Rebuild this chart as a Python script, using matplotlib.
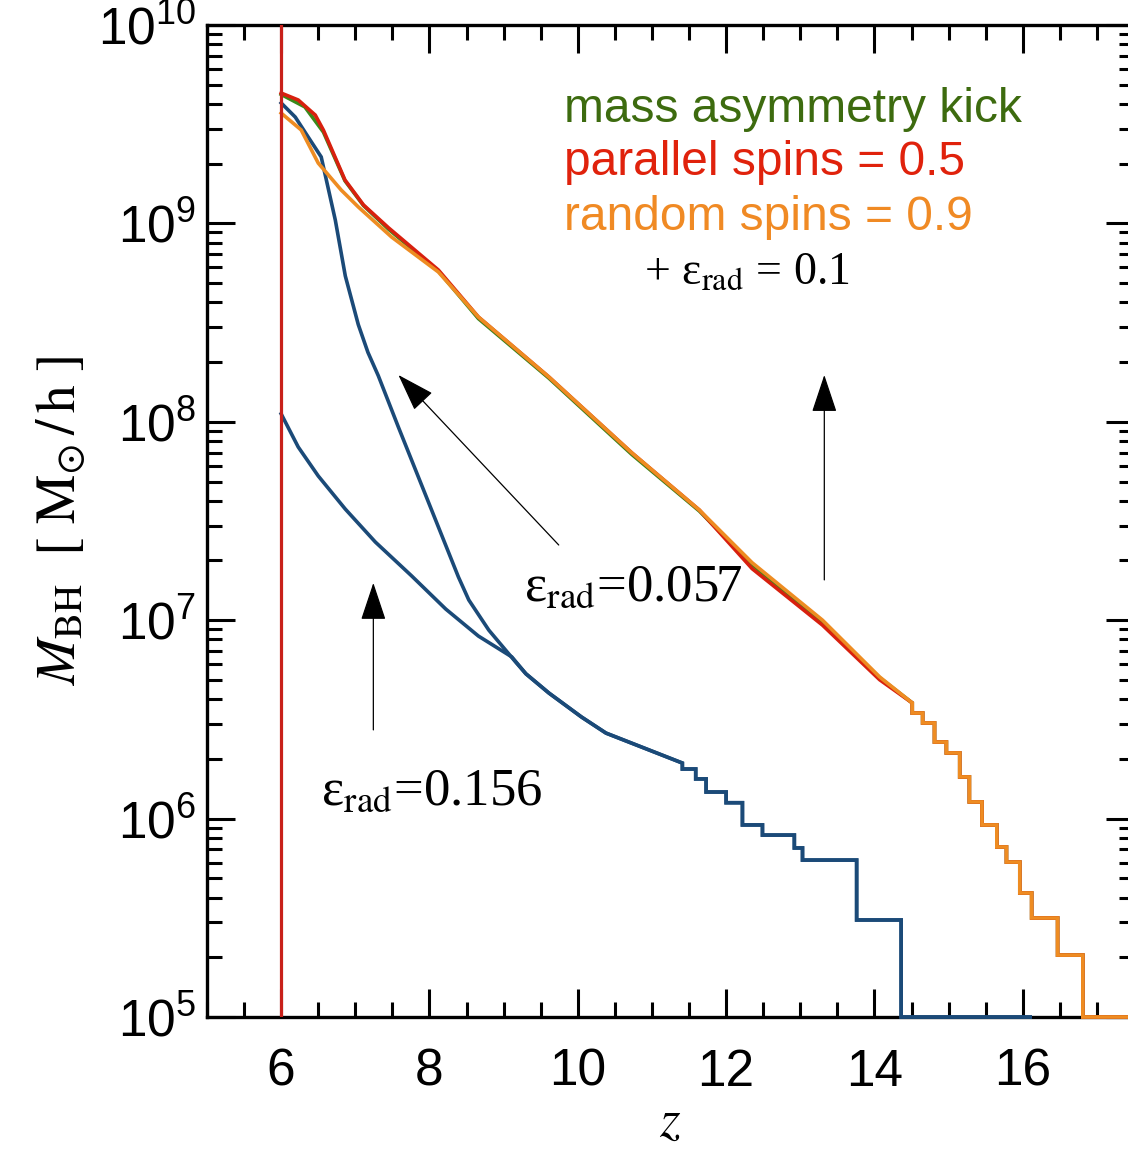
import numpy as np
import matplotlib
matplotlib.use('Agg')
import matplotlib.pyplot as plt
from matplotlib.ticker import MultipleLocator, LogLocator, NullFormatter, FuncFormatter

plt.rcParams['font.family'] = ['Liberation Sans', 'DejaVu Sans']
plt.rcParams['mathtext.fontset'] = 'stix'

# black hole mass growth, log10(M_BH)
# smooth low-z parts
z_red = [6.0, 6.23, 6.46, 6.57, 6.86, 7.11, 7.45, 8.12, 8.66, 9.61, 10.73, 11.64, 12.35, 13.30, 14.07, 14.51]
lm_red = [9.657, 9.622, 9.546, 9.47, 9.219, 9.093, 8.977, 8.765, 8.528, 8.226, 7.843, 7.555, 7.26, 6.975, 6.70, 6.583]

z_orange = [6.0, 6.27, 6.5, 6.81, 7.04, 7.49, 8.12, 8.66, 9.61, 10.73, 11.64, 12.35, 13.30, 14.07, 14.51]
lm_orange = [9.556, 9.471, 9.304, 9.168, 9.083, 8.931, 8.755, 8.528, 8.226, 7.843, 7.555, 7.29, 7.00, 6.714, 6.583]

z_green = [6.0, 6.32, 6.57, 6.86, 7.11, 7.45, 8.12, 8.66, 9.61, 10.73, 11.64, 12.35, 13.30, 14.07, 14.51]
lm_green = [9.65, 9.587, 9.46, 9.215, 9.09, 8.97, 8.76, 8.52, 8.22, 7.835, 7.55, 7.28, 6.99, 6.71, 6.583]

# high-z staircase shared by the three eps=0.1 runs
z_hi_edges = [14.51, 14.65, 14.81, 14.97, 15.15, 15.28, 15.45, 15.65, 15.78, 15.96, 16.12, 16.47, 16.81, 17.5]
lm_hi = [6.532, 6.482, 6.386, 6.331, 6.21, 6.084, 5.968, 5.857, 5.781, 5.625, 5.499, 5.312, 5.0]

# eps_rad = 0.057
z_blue1 = [6.0, 6.19, 6.365, 6.54, 6.73, 6.865, 7.04, 7.17, 7.31, 7.58, 7.85, 8.12, 8.39, 8.53, 8.80, 9.16]
lm_blue1 = [9.607, 9.536, 9.435, 9.335, 9.017, 8.735, 8.49, 8.35, 8.232, 7.974, 7.722, 7.470, 7.218, 7.102, 6.95, 6.79]

# eps_rad = 0.156
z_blue2 = [6.0, 6.23, 6.5, 6.865, 7.27, 7.76, 8.22, 8.66, 9.11]
lm_blue2 = [8.04, 7.873, 7.727, 7.560, 7.394, 7.223, 7.056, 6.920, 6.815]

# common tail of both blue runs
z_blue_tail = [9.30, 9.61, 10.05, 10.38, 10.96, 11.41]
lm_blue_tail = [6.73, 6.633, 6.512, 6.431, 6.346, 6.280]
z_blue_edges = [11.41, 11.59, 11.73, 12.0, 12.22, 12.49, 12.92, 13.03, 13.76, 14.36, 16.1]
lm_blue_steps = [6.25, 6.20, 6.134, 6.08, 5.968, 5.917, 5.852, 5.791, 5.489, 5.0]


def stairs(edges, vals):
    # corner points of a step curve
    e = np.repeat(np.asarray(edges, float), 2)[1:-1]
    v = np.repeat(np.asarray(vals, float), 2)
    return e, v


def full_curve(zs, lms, tails):
    z = list(zs)
    m = list(lms)
    for tz, tm in tails:
        z += list(tz)
        m += list(tm)
    return np.array(z), 10 ** np.array(m)


hi = stairs(z_hi_edges, lm_hi)
bst = stairs(z_blue_edges, lm_blue_steps)

fig = plt.figure(figsize=(11.28, 11.53), dpi=100)
ax = fig.add_axes([207 / 1128, 1 - 1017 / 1153, (1134 - 207) / 1128, (1017 - 25) / 1153])

blue = '#1b4a78'
kw = dict(lw=2.6, clip_on=False, zorder=3, solid_joinstyle='miter')

z, m = full_curve(z_blue2, lm_blue2, [(z_blue_tail, lm_blue_tail), bst])
ax.plot(z, m, color=blue, **kw)
z, m = full_curve(z_blue1, lm_blue1, [(z_blue_tail, lm_blue_tail), bst])
ax.plot(z, m, color=blue, **kw)
z, m = full_curve(z_green, lm_green, [hi])
ax.plot(z, m, color='#3a8a1a', **kw)
z, m = full_curve(z_red, lm_red, [hi])
ax.plot(z, m, color='#d8200e', **kw)
z, m = full_curve(z_orange, lm_orange, [hi])
ax.plot(z, m, color='#ee8c22', **kw)

ax.axvline(6, color='#c8201a', lw=2.3, zorder=4)

ax.set_xlim(5, 17.5)
ax.set_yscale('log')
ax.set_ylim(1e5, 1e10)

ax.xaxis.set_major_locator(MultipleLocator(2))
ax.xaxis.set_minor_locator(MultipleLocator(0.5))
ax.yaxis.set_major_locator(LogLocator(base=10))
ax.yaxis.set_minor_locator(LogLocator(base=10, subs=np.arange(2, 10)))
ax.yaxis.set_minor_formatter(NullFormatter())
ax.yaxis.set_major_formatter(FuncFormatter(lambda v, p: r'$\mathregular{10^{%d}}$' % round(np.log10(v))))

ax.tick_params(which='both', direction='in', top=True, right=True, width=2.2, labelsize=37)
ax.tick_params(which='major', length=20)
ax.tick_params(which='minor', length=10.5)
ax.tick_params(axis='x', pad=22)
ax.tick_params(axis='y', pad=8)
for s in ax.spines.values():
    s.set_linewidth(2.4)

ax.set_xlabel('$z$', fontsize=38, labelpad=0)
ax.set_ylabel(r'$M_{\rm BH}\ \ [\ {\rm M}_{\odot}\,/\,{\rm h}\ ]$', fontsize=40, labelpad=8)

# legend text
ax.text(9.81, 10 ** 9.511, 'mass asymmetry kick', color='#3d6b0f', fontsize=34.5)
ax.text(9.81, 10 ** 9.244, 'parallel spins = 0.5', color='#e0220c', fontsize=34.5)
ax.text(9.81, 10 ** 8.967, 'random spins = 0.9', color='#f08a24', fontsize=34.5)
ax.text(10.89, 10 ** 8.695, r'+ ε$_{\mathrm{rad}}$ = 0.1', color='black', fontsize=33,
        family='Liberation Serif')

ax.text(9.27, 10 ** 7.10, r'ε$_{\mathrm{rad}}$=0.057', fontsize=38, family='Liberation Serif')
ax.text(6.54, 10 ** 6.07, r'ε$_{\mathrm{rad}}$=0.156', fontsize=38, family='Liberation Serif')

aprops = dict(arrowstyle='-|>,head_length=0.6,head_width=0.2', mutation_scale=40,
              color='black', lw=0.9, shrinkA=0, shrinkB=0)
ax.annotate('', xy=(7.581, 10 ** 8.236), xytext=(9.743, 10 ** 7.379), arrowprops=aprops)
ax.annotate('', xy=(7.243, 10 ** 7.188), xytext=(7.243, 10 ** 6.447), arrowprops=aprops)
ax.annotate('', xy=(13.324, 10 ** 8.236), xytext=(13.324, 10 ** 7.203), arrowprops=aprops)

fig.savefig('out.png', dpi=100)
